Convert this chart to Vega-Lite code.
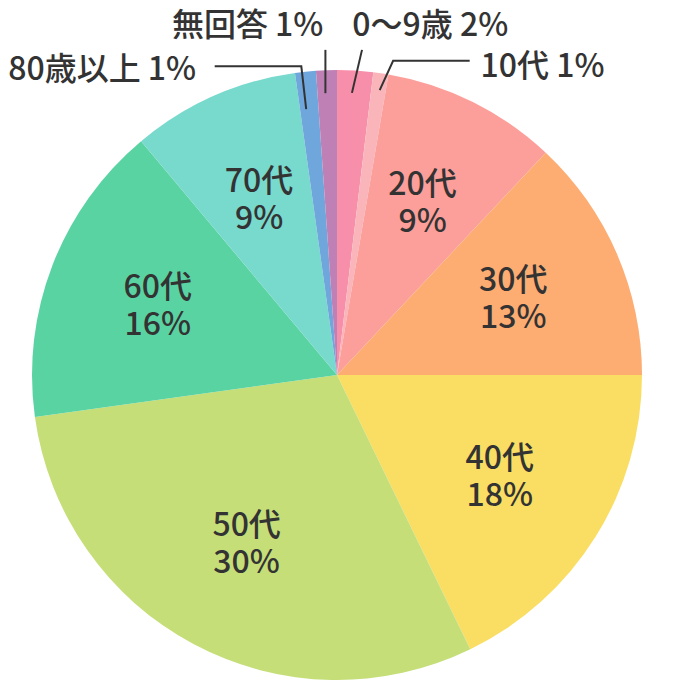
{
  "$schema": "https://vega.github.io/schema/vega-lite/v6.json",
  "width": 610,
  "height": 610,
  "autosize": {"type": "none"},
  "padding": {"left": 32, "top": 70, "right": 38, "bottom": 0},
  "background": "white",
  "config": {
    "view": {"stroke": null},
    "text": {"font": "Noto Sans CJK JP", "fontSize": 32, "fontWeight": 500, "color": "#333333"}
  },
  "datasets": {
    "ages": [
      {"age": "0〜9歳", "share": 0.019},
      {"age": "10代", "share": 0.008},
      {"age": "20代", "share": 0.093},
      {"age": "30代", "share": 0.130},
      {"age": "40代", "share": 0.178},
      {"age": "50代", "share": 0.300},
      {"age": "60代", "share": 0.161},
      {"age": "70代", "share": 0.089},
      {"age": "80歳以上", "share": 0.011},
      {"age": "無回答", "share": 0.011}
    ],
    "leaders": [
      {"grp": "80歳以上", "k": 0, "u": -0.401, "v": 1.012},
      {"grp": "80歳以上", "k": 1, "u": -0.117, "v": 1.012},
      {"grp": "80歳以上", "k": 2, "u": -0.101, "v": 0.872},
      {"grp": "無回答", "k": 0, "u": -0.038, "v": 1.066},
      {"grp": "無回答", "k": 1, "u": -0.038, "v": 0.924},
      {"grp": "0〜9歳", "k": 0, "u": 0.082, "v": 1.066},
      {"grp": "0〜9歳", "k": 1, "u": 0.049, "v": 0.925},
      {"grp": "10代", "k": 0, "u": 0.435, "v": 1.030},
      {"grp": "10代", "k": 1, "u": 0.184, "v": 1.030},
      {"grp": "10代", "k": 2, "u": 0.140, "v": 0.934}
    ],
    "callouts": [
      {"label": "無回答 1%", "u": -0.293, "v": 1.145},
      {"label": "0〜9歳 2%", "u": 0.306, "v": 1.145},
      {"label": "10代 1%", "u": 0.674, "v": 1.011},
      {"label": "80歳以上 1%", "u": -0.770, "v": 1.0}
    ]
  },
  "layer": [
    {
      "data": {"name": "ages"},
      "mark": {"type": "arc"},
      "encoding": {
        "theta": {"field": "share", "type": "quantitative", "stack": true},
        "order": {"field": "age", "type": "ordinal", "sort": "ascending"},
        "color": {
          "field": "age",
          "type": "nominal",
          "legend": null,
          "scale": {
            "domain": ["0〜9歳", "10代", "20代", "30代", "40代", "50代", "60代", "70代", "80歳以上", "無回答"],
            "range": ["#F78FAB", "#F9B5BA", "#FC9F9A", "#FDAC72", "#F9DE63", "#C5DE78", "#5AD3A3", "#78D9CD", "#6FA6DB", "#BF80B5"]
          }
        }
      }
    },
    {
      "data": {"name": "ages"},
      "mark": {"type": "text", "baseline": "middle", "align": "center", "dy": -18},
      "encoding": {
        "theta": {"field": "share", "type": "quantitative", "stack": true},
        "order": {"field": "age", "type": "ordinal", "sort": "ascending"},
        "radius": {"value": 192},
        "text": {"condition": {"test": "datum.share < 0.05", "value": ""}, "field": "age"}
      }
    },
    {
      "data": {"name": "ages"},
      "mark": {"type": "text", "baseline": "middle", "align": "center", "dy": 19},
      "encoding": {
        "theta": {"field": "share", "type": "quantitative", "stack": true},
        "order": {"field": "age", "type": "ordinal", "sort": "ascending"},
        "radius": {"value": 192},
        "text": {"condition": {"test": "datum.share < 0.05", "value": ""}, "field": "share", "type": "quantitative", "format": ".0%"}
      }
    },
    {
      "data": {"name": "leaders"},
      "mark": {"type": "line", "color": "#333333", "strokeWidth": 2},
      "encoding": {
        "x": {"field": "u", "type": "quantitative", "axis": null, "scale": {"domain": [-1, 1], "nice": false, "zero": false}},
        "y": {"field": "v", "type": "quantitative", "axis": null, "scale": {"domain": [-1, 1], "nice": false, "zero": false}},
        "detail": {"field": "grp"},
        "order": {"field": "k"}
      }
    },
    {
      "data": {"name": "callouts"},
      "mark": {"type": "text", "baseline": "middle", "align": "center"},
      "encoding": {
        "x": {"field": "u", "type": "quantitative"},
        "y": {"field": "v", "type": "quantitative"},
        "text": {"field": "label"}
      }
    }
  ]
}
